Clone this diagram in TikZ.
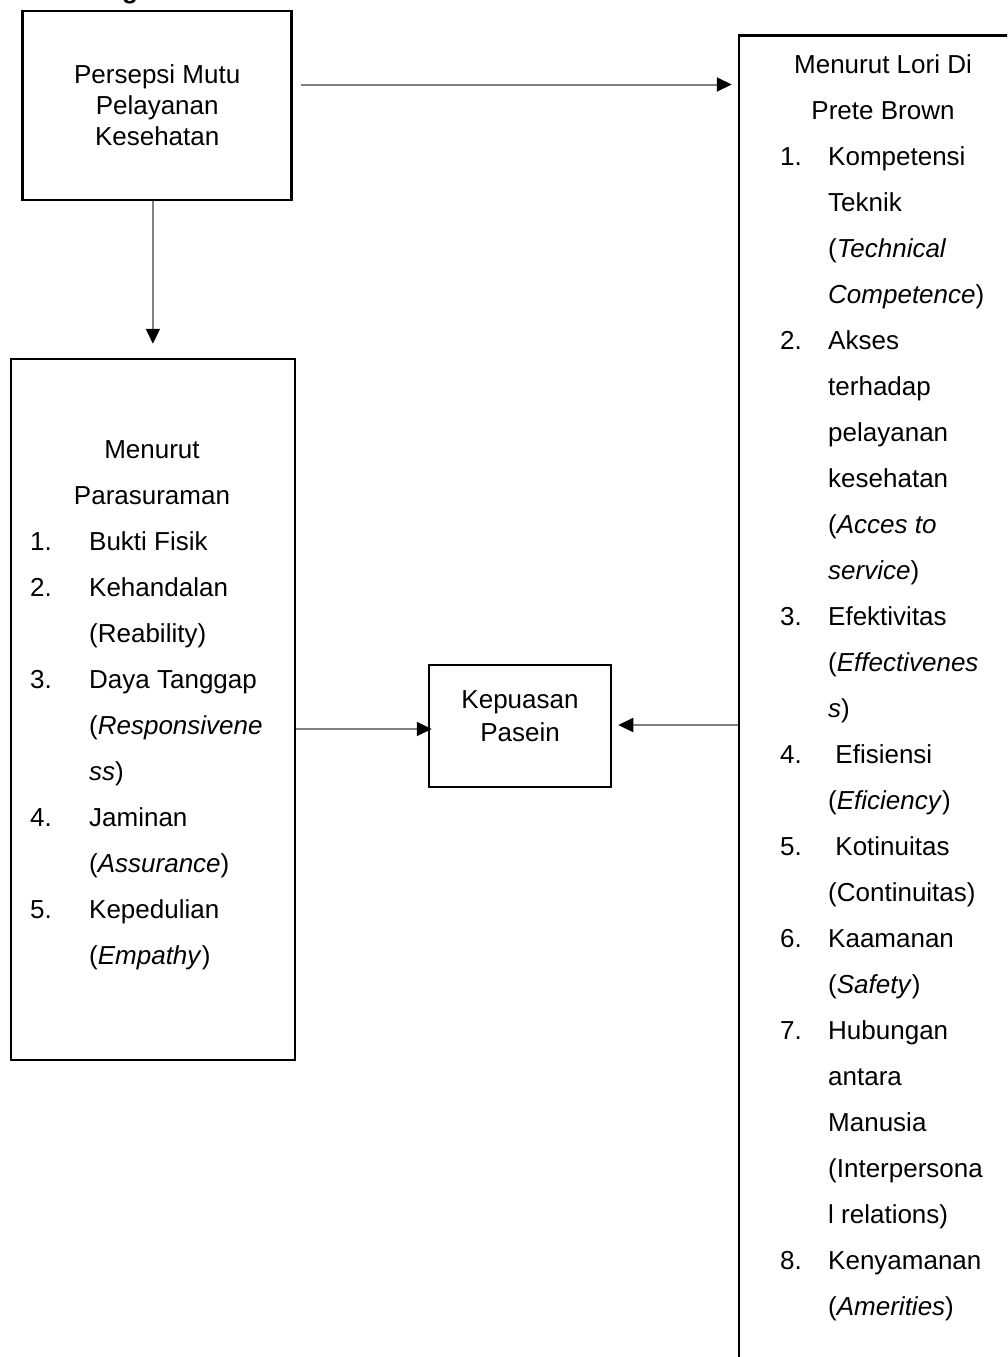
\documentclass[tikz,border=0pt]{standalone}
\usepackage{fontspec}
\setmainfont{Liberation Sans}
\usetikzlibrary{arrows.meta}

\tikzset{
  box/.style={draw=black, line width=2.5pt, inner sep=0pt},
  txt/.style={font=\fontsize{26}{31}\selectfont, inner sep=0pt},
  conn/.style={draw=black!50, line width=2pt, -{Triangle[length=15pt,width=14pt,black]}},
}

\begin{document}
\begin{tikzpicture}[x=1pt,y=-1pt]
        \useasboundingbox (0,0) rectangle (1007,1357);
        \clip (0,0) rectangle (1007,1357);
        \fill[white] (0,0) rectangle (1007,1357);
        % heading, cut off at the top
        \node[txt, font=\fontsize{26}{31}\selectfont\bfseries, anchor=base] (judul) at (130,-1.5) {g};
        % boxes
        \node[box, txt, align=center, minimum width=269pt, minimum height=189pt] (persepsi) at (157.2,105.3) {Persepsi Mutu\\Pelayanan\\Kesehatan};
        \node[box, minimum width=284pt, minimum height=701pt] (parasuraman) at (152.9,709.5) {};
        \node[box, minimum width=182pt, minimum height=122pt] (kepuasan) at (520,726) {};
        \node[txt, align=center, font=\fontsize{26}{33}\selectfont] (kepuasantxt) at (520,716) {Kepuasan\\Pasein};
        \node[box, minimum width=300pt, minimum height=1400pt] (lori) at (889,735.7) {};
        % left list
        \node[txt, anchor=base] (parhead1) at (152,458) {Menurut};
        \node[txt, anchor=base] (parhead2) at (152,504) {Parasuraman};
        \foreach \n/\k in {1./2, 2./3, 3./5, 4./8, 5./10}
            \node[txt, anchor=base west] (pn\k) at (30,{458+46*\k}) {\n};
        \foreach \t [count=\k from 2] in {Bukti Fisik, Kehandalan, {(Reability)}, Daya Tanggap,
            {(\textit{Responsivene}}, \textit{ss}), Jaminan, {(\textit{Assurance})}, Kepedulian, {(\textit{Empathy})}}
            \node[txt, anchor=base west] (pt\k) at (89,{458+46*\k}) {\t};
        % right list
        \node[txt, anchor=base] (lorihead1) at (883,73) {Menurut Lori Di};
        \node[txt, anchor=base] (lorihead2) at (883,119) {Prete Brown};
        \foreach \n/\k in {1./2, 2./6, 3./12, 4./15, 5./17, 6./19, 7./21, 8./26}
            \node[txt, anchor=base west] (ln\k) at (780,{73+46*\k}) {\n};
        \foreach \t [count=\k from 2] in {Kompetensi, Teknik, {(\textit{Technical}}, \textit{Competence}),
            Akses, terhadap, pelayanan, kesehatan, {(\textit{Acces to}}, \textit{service}),
            Efektivitas, {(\textit{Effectivenes}}, \textit{s}), ~Efisiensi, {(\textit{Eficiency})},
            ~Kotinuitas, {(Continuitas)}, Kaamanan, {(\textit{Safety})}, Hubungan, antara, Manusia,
            {(Interpersona}, l relations), Kenyamanan, {(\textit{Amerities})}}
            \node[txt, anchor=base west] (lt\k) at (828,{73+46*\k}) {\t};
        % connectors
        \draw[conn, shorten <=8pt, shorten >=6pt] (persepsi.east |- 0,84.5) -- (lori.west |- 0,84.5);
        \draw[conn, shorten >=14pt] (parasuraman.north |- persepsi.south) -- (parasuraman.north);
        \draw[conn, shorten >=-4pt] (parasuraman.east |- 0,729) -- (kepuasan.west |- 0,729);
        \draw[conn, shorten >=6pt] (lori.west |- 0,725) -- (kepuasan.east |- 0,725);
\end{tikzpicture}
\end{document}
